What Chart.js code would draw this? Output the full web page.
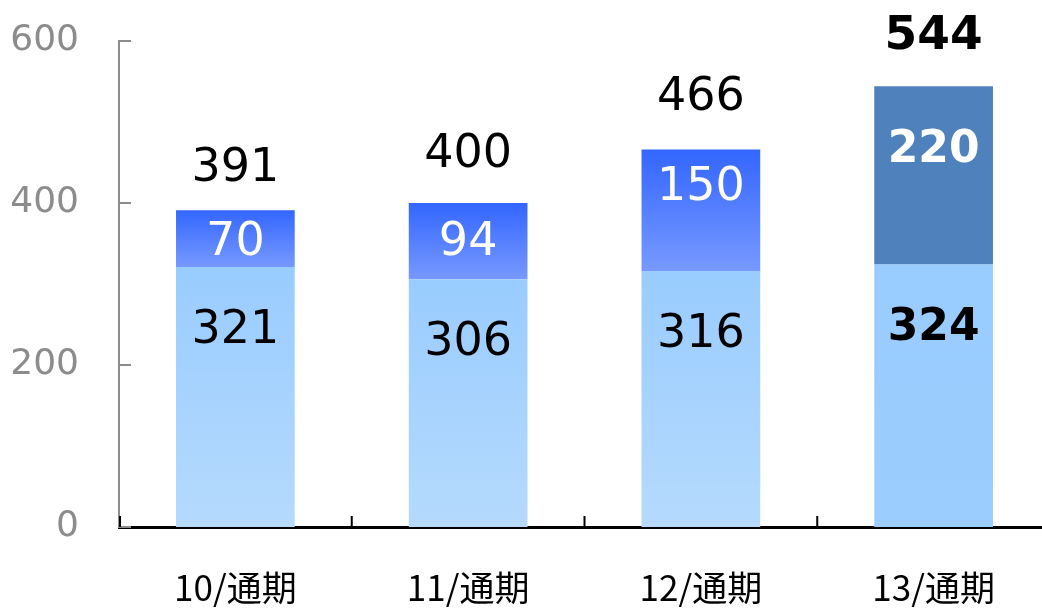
<!DOCTYPE html>
<html>
<head>
<meta charset="utf-8">
<script src="https://cdn.jsdelivr.net/npm/chart.js@4.4.1/dist/chart.umd.min.js"></script>
<style>
  html, body { margin: 0; padding: 0; background: #fff; overflow: hidden; }
  #wrap { position: absolute; left: 0; top: 0; width: 1060px; height: 610px; }
</style>
</head>
<body>
<div id="wrap"><canvas id="chart"></canvas></div>
<script>
// data
const categories = ['10/通期', '11/通期', '12/通期', '13/通期'];
const baseValues = [321, 306, 316, 324];
const addedValues = [70, 94, 150, 220];
const totalValues = [391, 400, 466, 544];
const yTickValues = [0, 200, 400, 600];

// label placement (px from segment top), hand tuned like the original slide
const totalLift = [45, 52, 55, 54];
const addedDrop = [29, 36, 35, 60];
const baseDrop = 60;
const textNudge = 4; // DejaVu digits sit a bit high with 'middle' baseline
const highlightIndex = 3; // last bar is drawn bold / solid

const NUM_FONT = '"DejaVu Sans", Verdana, sans-serif';
const CJK_FONT = '"Noto Sans CJK JP", "Noto Sans", sans-serif';

function segmentGradient(chart, fromVal, toVal, topColor, bottomColor) {
    const y = chart.scales.y;
    if (!y || !chart.chartArea) return topColor;
    const top = y.getPixelForValue(toVal);
    const bottom = y.getPixelForValue(fromVal);
    if (!isFinite(top) || !isFinite(bottom) || top === bottom) return topColor;
    const g = chart.ctx.createLinearGradient(0, top, 0, bottom);
    g.addColorStop(0, topColor);
    g.addColorStop(1, bottomColor);
    return g;
}

// inner tick marks + value labels
const overlayPlugin = {
    id: 'overlay',
    afterDatasetsDraw(chart) {
        const ctx = chart.ctx;
        const x = chart.scales.x;
        const y = chart.scales.y;
        const area = chart.chartArea;

        ctx.save();
        // y ticks pointing inwards
        ctx.strokeStyle = '#8c8c8c';
        ctx.lineWidth = 2;
        yTickValues.forEach(v => {
            const py = y.getPixelForValue(v);
            ctx.beginPath();
            ctx.moveTo(area.left, py);
            ctx.lineTo(area.left + 12, py);
            ctx.stroke();
        });
        // x ticks between categories, pointing up
        ctx.strokeStyle = '#000';
        ctx.lineWidth = 2;
        for (let i = 0; i < categories.length; i++) {
            const px = (i === 0) ? area.left + 1 : (x.getPixelForValue(i - 1) + x.getPixelForValue(i)) / 2;
            ctx.beginPath();
            ctx.moveTo(px, area.bottom);
            ctx.lineTo(px, area.bottom - 11);
            ctx.stroke();
        }

        const baseMeta = chart.getDatasetMeta(0);
        const addMeta = chart.getDatasetMeta(1);
        ctx.textAlign = 'center';
        ctx.textBaseline = 'middle';
        categories.forEach((c, i) => {
            const bold = i === highlightIndex;
            const bBar = baseMeta.data[i];
            const aBar = addMeta.data[i];

            ctx.fillStyle = '#000';
            ctx.font = (bold ? 'bold 44px ' : '46px ') + NUM_FONT;
            ctx.fillText(String(baseValues[i]), bBar.x, bBar.y + baseDrop + textNudge);

            ctx.fillStyle = '#fff';
            ctx.fillText(String(addedValues[i]), aBar.x, aBar.y + addedDrop[i] + textNudge);

            ctx.fillStyle = '#000';
            ctx.font = (bold ? 'bold 47px ' : '46px ') + NUM_FONT;
            ctx.fillText(String(totalValues[i]), aBar.x, aBar.y - totalLift[i] + textNudge);
        });
        ctx.restore();
    }
};

const ctx = document.getElementById('chart').getContext('2d');
new Chart(ctx, {
    type: 'bar',
    data: {
        labels: categories,
        datasets: [
            {
                label: 'base',
                data: baseValues,
                backgroundColor: (c) => {
                    if (c.type !== 'data') return '#99ccff';
                    if (c.dataIndex === highlightIndex) {
                        return segmentGradient(c.chart, 0, baseValues[c.dataIndex], '#99ccff', '#9ccdff');
                    }
                    return segmentGradient(c.chart, 0, baseValues[c.dataIndex], '#99ccff', '#b5dafd');
                },
                borderWidth: 0
            },
            {
                label: 'added',
                data: addedValues,
                backgroundColor: (c) => {
                    if (c.type !== 'data') return '#3366ff';
                    const i = c.dataIndex;
                    if (i === highlightIndex) return '#4f81bd';
                    return segmentGradient(c.chart, baseValues[i], totalValues[i], '#3366ff', '#7799ff');
                },
                borderWidth: 0
            }
        ]
    },
    options: {
        responsive: true,
        maintainAspectRatio: false,
        animation: false,
        events: [],
        layout: { padding: { top: 41, right: 10, left: 0, bottom: 0 } },
        plugins: {
            legend: { display: false },
            tooltip: { enabled: false }
        },
        datasets: {
            bar: { barPercentage: 0.51, categoryPercentage: 1.0 }
        },
        scales: {
            x: {
                stacked: true,
                grid: { display: false, drawTicks: false },
                border: { display: true, color: '#000', width: 3 },
                ticks: {
                    color: '#000',
                    padding: 40,
                    font: { family: CJK_FONT, size: 35 }
                },
                afterFit(scale) {
                    scale.height = 83;
                    scale.paddingLeft = 0;
                    scale.paddingRight = 0;
                }
            },
            y: {
                stacked: true,
                min: 0,
                max: 600,
                grid: { display: false, drawTicks: false },
                border: { display: true, color: '#8c8c8c', width: 2 },
                ticks: {
                    stepSize: 200,
                    color: '#8c8c8c',
                    padding: 40,
                    font: { family: NUM_FONT, size: 36 }
                },
                afterFit(scale) {
                    scale.width = 119;
                    scale.paddingTop = 0;
                    scale.paddingBottom = 0;
                }
            }
        }
    },
    plugins: [overlayPlugin]
});
</script>
</body>
</html>
